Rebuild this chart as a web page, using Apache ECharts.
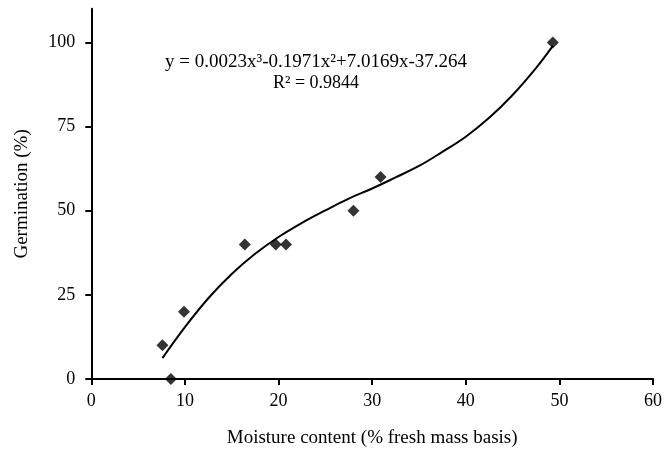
<!DOCTYPE html>
<html><head><meta charset="utf-8">
<script src="https://cdn.jsdelivr.net/npm/echarts@6/dist/echarts.min.js"></script>
<style>html,body{margin:0;padding:0;background:#fff}#c{width:665px;height:453px}</style>
</head><body><div id="c"></div>
<script>
// Observed points: moisture content (% fresh mass basis) vs germination (%)
const moisture = [7.6, 8.5, 9.9, 16.4, 19.7, 20.8, 28.0, 30.9, 49.3];
const germination = [10, 0, 20, 40, 40, 40, 50, 60, 100];
// Trendline
const trendX = [7.6, 10, 12.5, 15, 17.5, 20, 22.5, 25, 27.5, 30, 32.5, 35, 37.5, 40, 42.5, 45, 47.5, 49.3];
const trendY = [6.2, 15.4, 24.0, 31.2, 37.2, 42.2, 46.4, 50.1, 53.6, 56.6, 59.9, 63.3, 67.5, 72.0, 77.6, 84.4, 92.4, 99.0];
const yTicks = [0, 25, 50, 75, 100];
const eqLine1 = 'y = 0.0023x³-0.1971x²+7.0169x-37.264';
const eqLine2 = 'R² = 0.9844';

const font = 'Liberation Serif';
const chart = echarts.init(document.getElementById('c'));
chart.setOption({
  animation: false,
  backgroundColor: '#fff',
  textStyle: {fontFamily: font, color: '#000'},
  grid: {left: 91.3, right: 7.5, top: 8.8, bottom: 68, containLabel: false},
  xAxis: {
    type: 'value', min: 0, max: 60, interval: 10,
    name: 'Moisture content (% fresh mass basis)', nameLocation: 'middle', nameGap: 50,
    nameTextStyle: {fontFamily: font, fontSize: 19, color: '#000'},
    axisLine: {onZero: false, lineStyle: {color: '#000', width: 2}},
    axisTick: {show: true, inside: false, length: 6, lineStyle: {color: '#000', width: 2}},
    axisLabel: {fontFamily: font, fontSize: 18, color: '#000', margin: 13},
    splitLine: {show: false}
  },
  yAxis: {
    type: 'value', min: 0, max: 110, interval: 25,
    name: 'Germination (%)', nameLocation: 'middle', nameGap: 60, nameRotate: 90,
    nameTextStyle: {fontFamily: font, fontSize: 19, color: '#000'},
    axisLine: {show: true, onZero: false, lineStyle: {color: '#000', width: 2}},
    axisTick: {show: true, inside: false, length: 6, customValues: yTicks, lineStyle: {color: '#000', width: 2}},
    axisLabel: {fontFamily: font, fontSize: 18, color: '#000', margin: 16, customValues: yTicks},
    splitLine: {show: false}
  },
  graphic: [
    {type: 'text', x: 316, y: 62, style: {text: eqLine1, fontFamily: font, fontSize: 19, fill: '#000', align: 'center', verticalAlign: 'middle'}},
    {type: 'text', x: 316, y: 83, style: {text: eqLine2, fontFamily: font, fontSize: 18, fill: '#000', align: 'center', verticalAlign: 'middle'}}
  ],
  series: [
    {
      type: 'line', data: trendX.map((x, i) => [x, trendY[i]]), smooth: 0.4,
      showSymbol: false, symbol: 'none', lineStyle: {color: '#000', width: 2}, z: 2
    },
    {
      type: 'scatter', data: moisture.map((x, i) => [x, germination[i]]),
      symbol: 'diamond', symbolSize: 12, itemStyle: {color: '#000'}, z: 3
    }
  ]
});
</script></body></html>
